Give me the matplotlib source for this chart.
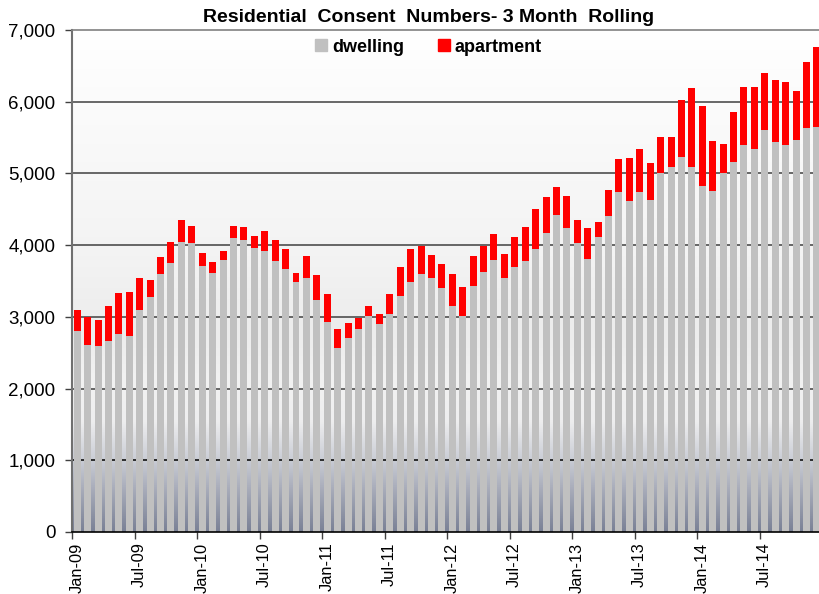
import numpy as np
import matplotlib
matplotlib.use("Agg")
import matplotlib.pyplot as plt
from matplotlib.colors import LinearSegmentedColormap
from matplotlib.lines import Line2D
from matplotlib.transforms import ScaledTranslation

plt.rcParams['font.family'] = ['Liberation Sans', 'DejaVu Sans']

title = "Residential  Consent  Numbers- 3 Month  Rolling"
series_names = ["dwelling", "apartment"]

dwelling = [2800, 2605, 2591, 2661, 2759, 2735, 3093, 3283, 3599, 3752, 4045, 4031,
            3715, 3613, 3794, 4096, 4068, 3956, 3919, 3780, 3664, 3483, 3539, 3241,
            2926, 2568, 2712, 2824, 3014, 2902, 3037, 3293, 3483, 3599, 3548, 3399,
            3153, 3014, 3432, 3622, 3789, 3548, 3701, 3775, 3943, 4170, 4425, 4239,
            4025, 3807, 4109, 4401, 4745, 4619, 4745, 4629, 5009, 5088, 5228, 5088,
            4824, 4749, 5000, 5162, 5395, 5334, 5604, 5436, 5395, 5464, 5636, 5650]

apartment = [302, 390, 372, 492, 575, 609, 455, 228, 241, 293, 301, 241,
             176, 148, 125, 176, 190, 177, 279, 288, 288, 125, 315, 344,
             399, 265, 209, 167, 139, 144, 288, 403, 469, 395, 316, 339,
             446, 404, 418, 372, 367, 330, 418, 483, 557, 497, 381, 445,
             325, 427, 218, 371, 459, 599, 599, 510, 502, 423, 789, 1105,
             1114, 697, 404, 692, 812, 873, 803, 873, 886, 692, 915, 1114]

tick_labels = ["Jan-09", "Jul-09", "Jan-10", "Jul-10", "Jan-11", "Jul-11",
               "Jan-12", "Jul-12", "Jan-13", "Jul-13", "Jan-14", "Jul-14"]
y_ticks = [0, 1000, 2000, 3000, 4000, 5000, 6000, 7000]

dw_color = "#c0c0c0"
ap_color = "#ff0000"

fig = plt.figure(figsize=(8.19, 5.94), dpi=100)
ax = fig.add_axes([72/819, 1-532/594, 747/819, 502/594])

n = len(dwelling)
x = np.arange(n)
xlim = (-0.5, 71.2)

# background gradient
cmap = LinearSegmentedColormap.from_list("bg", [
    (0.0, "#7a8196"),
    (0.08, "#a6aab8"),
    (0.15, "#cdd0d8"),
    (0.22, "#eeeeef"),
    (0.30, "#f2f2f2"),
    (0.40, "#ececec"),
    (0.55, "#f3f3f3"),
    (1.0, "#ffffff")])
grad = np.linspace(0, 1, 256).reshape(-1, 1)
ax.imshow(grad, aspect='auto', cmap=cmap, origin='lower',
          extent=[xlim[0], xlim[1], 0, 7000], zorder=0)

for yv in y_ticks[1:-1]:
    ax.axhline(yv, color="#000000" if yv == 1000 else "#404040", lw=1.1, zorder=1)

ax.bar(x, dwelling, width=0.67, color=dw_color, zorder=2, linewidth=0)
ax.bar(x, apartment, bottom=dwelling, width=0.67, color=ap_color, zorder=2, linewidth=0)

ax.set_xlim(*xlim)
ax.set_ylim(0, 7000)
ax.set_yticks(y_ticks)
ax.set_yticklabels([f"{v:,}" for v in y_ticks], fontsize=13.5)
ax.set_xticks(np.arange(len(tick_labels)) * 6 - 0.5)
ax.set_xticklabels(tick_labels, rotation=90, fontsize=11.8, va='top')
ax.tick_params(axis='both', direction='out', length=5, width=1, color="#404040")
ax.tick_params(axis='y', pad=7)
ax.tick_params(axis='x', pad=2.5)
offset = ScaledTranslation(5/100, 0, fig.dpi_scale_trans)
for lbl in ax.get_xticklabels():
    lbl.set_transform(lbl.get_transform() + offset)

ax.spines['right'].set_visible(False)
ax.spines['top'].set_color("#808080")
ax.spines['top'].set_linewidth(1.2)
ax.spines['left'].set_color("#707070")
ax.spines['left'].set_linewidth(1.5)
ax.spines['bottom'].set_color("#000000")
ax.spines['bottom'].set_linewidth(1.2)

fig.text(429/819, 1-17/594, title, ha='center', va='center',
         fontsize=14, fontweight='bold')

handles = [Line2D([], [], marker='s', ls='', color=dw_color, markersize=9),
           Line2D([], [], marker='s', ls='', color=ap_color, markersize=9)]
leg = fig.legend(handles, series_names, loc='center', bbox_to_anchor=(428/819, 1-47/594),
                 ncol=2, frameon=False, prop={'size': 13, 'weight': 'bold'},
                 handlelength=0.8, handletextpad=0.2, columnspacing=1.8)

fig.savefig("out.png", dpi=100)
